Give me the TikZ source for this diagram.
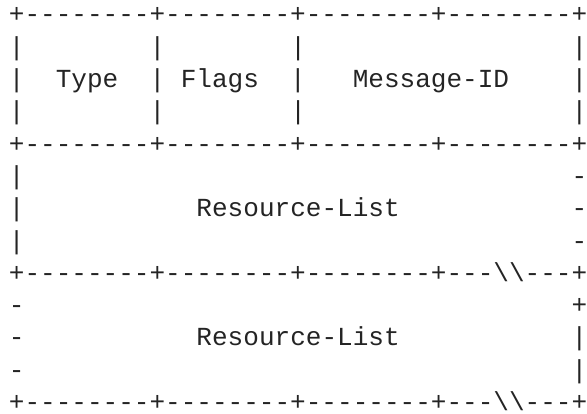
\documentclass[tikz,border=0pt]{standalone}
\usepackage{fontspec}
\setmonofont{Liberation Mono}
\definecolor{ink}{rgb}{0.14,0.14,0.14}
\newcommand\sk[1]{\hspace*{#1\fontcharwd\font`x}}
\newcommand\bs{\textbackslash\textbackslash}
\tikzset{asciiline/.style={anchor=base west,inner sep=0pt,outer sep=0pt,text=ink,
  text depth=0pt,font=\ttfamily\fontsize{26.05}{32.3}\selectfont}}
\begin{document}
\begin{tikzpicture}[x=1pt,y=1pt]
\useasboundingbox (0,0) rectangle (587,-414);
\def\lx{8.9}
\def\ly{-23.0}
\def\dy{32.3}
\node[asciiline] (l1) at (\lx,\ly) {+--------+--------+--------+--------+};
\node[asciiline] (l2) at (\lx,\ly-\dy) {|\sk{8}|\sk{8}|\sk{17}|};
\node[asciiline] (l3) at (\lx,\ly-2*\dy) {|\sk{2}Type\sk{2}|\sk{1}Flags\sk{2}|\sk{3}Message-ID\sk{4}|};
\node[asciiline] (l4) at (\lx,\ly-3*\dy) {|\sk{8}|\sk{8}|\sk{17}|};
\node[asciiline] (l5) at (\lx,\ly-4*\dy) {+--------+--------+--------+--------+};
\node[asciiline] (l6) at (\lx,\ly-5*\dy) {|\sk{35}-};
\node[asciiline] (l7) at (\lx,\ly-6*\dy) {|\sk{11}Resource-List\sk{11}-};
\node[asciiline] (l8) at (\lx,\ly-7*\dy) {|\sk{35}-};
\node[asciiline] (l9) at (\lx,\ly-8*\dy) {+--------+--------+--------+---\bs---+};
\node[asciiline] (l10) at (\lx,\ly-9*\dy) {-\sk{35}+};
\node[asciiline] (l11) at (\lx,\ly-10*\dy) {-\sk{11}Resource-List\sk{11}|};
\node[asciiline] (l12) at (\lx,\ly-11*\dy) {-\sk{35}|};
\node[asciiline] (l13) at (\lx,\ly-12*\dy) {+--------+--------+--------+---\bs---+};
\end{tikzpicture}
\end{document}
